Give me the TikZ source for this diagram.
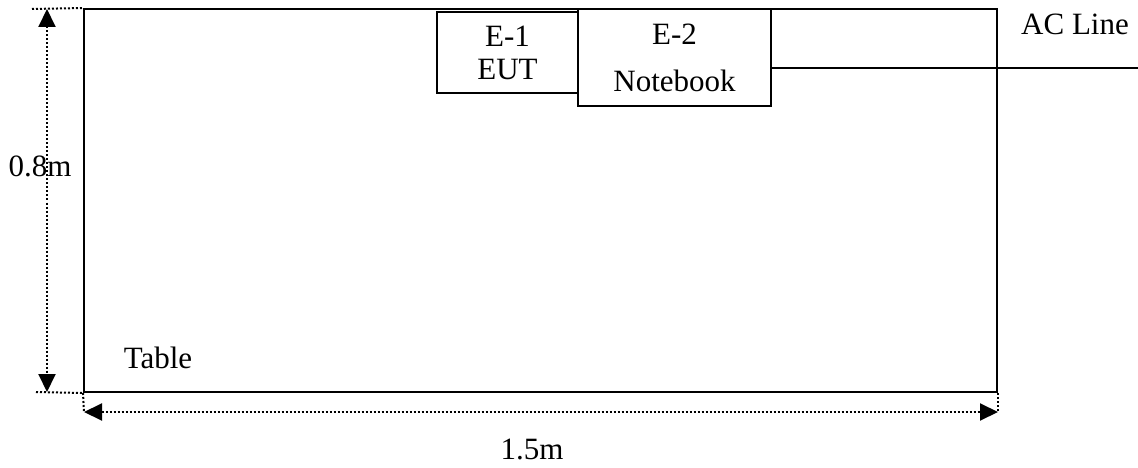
\documentclass[tikz,border=0pt]{standalone}
\usepackage{fontspec}
\setmainfont{Liberation Serif}
\usetikzlibrary{arrows.meta}
\begin{document}
\begin{tikzpicture}[x=1pt,y=-1pt,
  solidbox/.style={draw=black, line width=2pt, fill=white, inner sep=0pt},
  lbl/.style={font=\fontsize{31}{33}\selectfont, inner sep=0pt},
  dimline/.style={line width=2pt, dash pattern=on 2pt off 2pt},
  dimarrow/.style={dimline, {Triangle[length=18pt,width=17pt]}-{Triangle[length=18pt,width=17pt]}},
  wire/.style={line width=1.5pt}]
\useasboundingbox (0,0) rectangle (1138,468);
% table
\node[solidbox, fill=none, minimum width=913pt, minimum height=383pt] (table) at (540.5,200.5) {};
\node[lbl] (tablelbl) at (158,358) {Table};
% equipment
\node[solidbox, minimum width=141pt, minimum height=81pt, align=center, font=\fontsize{31}{33}\selectfont] (e1) at (507.5,52.5) {E-1\\EUT};
\node[solidbox, minimum width=193pt, minimum height=97pt, align=center, font=\fontsize{31}{47}\selectfont] (e2) at (674.5,57.5) {E-2\\Notebook};
% AC line
\coordinate (acend) at (1138,68);
\draw[wire] (e2.east |- acend) -- (acend);
\node[lbl] (aclbl) at (1075,24) {AC Line};
% vertical dimension
\coordinate (tl) at (32,9);
\coordinate (bl) at (36,392);
\draw[dimline] (tl) -- (table.north west);
\draw[dimline] (bl) -- (table.south west);
\coordinate (vtop) at (47,9);
\coordinate (vbot) at (47,392);
\draw[dimarrow] (vtop) -- (vbot);
\node[lbl] (vlbl) at (40,166) {0.8m};
% horizontal dimension
\coordinate (hl) at (84,412);
\coordinate (hr) at (998,412);
\draw[dimline] (table.south west) -- (hl);
\draw[dimline] (table.south east) -- (hr);
\draw[dimarrow] (hl) -- (hr);
\node[lbl] (hlbl) at (532,449) {1.5m};
\end{tikzpicture}
\end{document}
